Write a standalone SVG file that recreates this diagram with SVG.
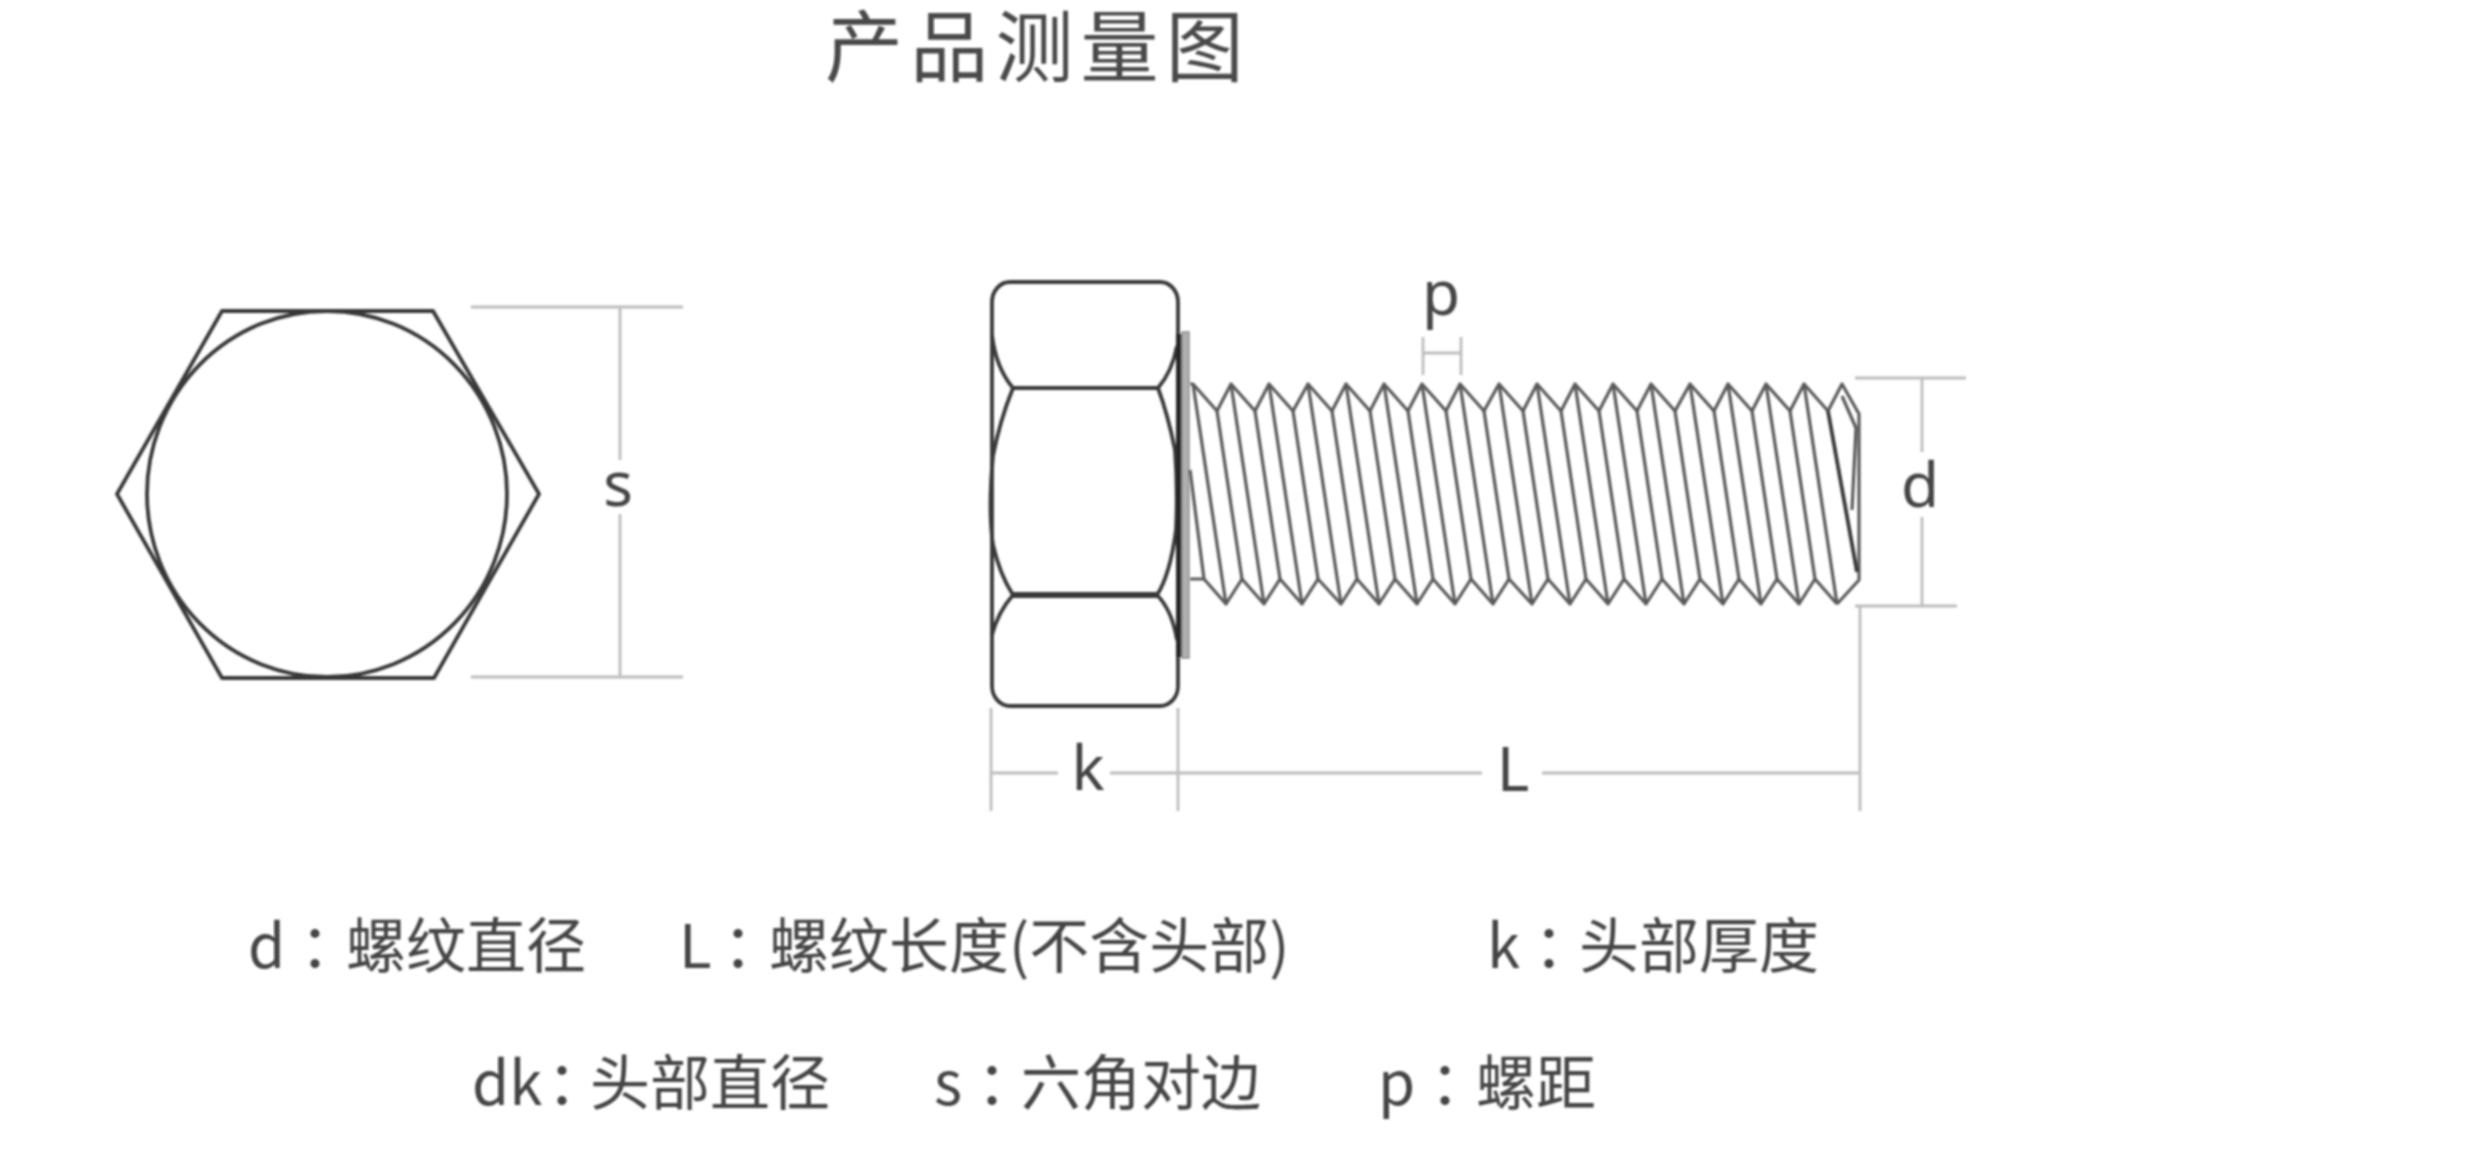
<svg xmlns="http://www.w3.org/2000/svg" width="2480" height="1164" viewBox="0 0 2480 1164">
<defs><filter id="soft" x="-5%" y="-5%" width="110%" height="110%"><feGaussianBlur stdDeviation="1.1"/></filter>
<filter id="softT" x="-5%" y="-20%" width="110%" height="140%"><feGaussianBlur stdDeviation="1"/></filter></defs>
<style>
.o{fill:none;stroke:#383838;stroke-width:3.8;stroke-linejoin:round}
.th{fill:none;stroke:#5a5a5a;stroke-width:3.2;stroke-linejoin:round}
.dim{fill:none;stroke:#bdbdbd;stroke-width:2.8}
text{font-family:"Noto Sans CJK SC","Noto Sans",sans-serif;fill:#444;filter:url(#softT)}
.t{font-size:78px;letter-spacing:7.2px;fill:#4a4a4a}
.l{font-size:60px}
.c{letter-spacing:-16px}
.m{font-size:62px;font-family:"Noto Sans","Noto Sans CJK SC",sans-serif;text-anchor:middle}
</style>
<rect width="2480" height="1164" fill="#fff"/>
<text id="title" class="t" x="825" y="76">产品测量图</text>
<g id="hex-view" filter="url(#soft)">
<path class="o" d="M222,311H433L539,494L434,678H222L117,494Z"/>
<ellipse class="o" cx="327" cy="494" rx="180" ry="183"/>
</g>
<g id="bolt-head" filter="url(#soft)">
<rect class="o" x="992" y="282" width="186" height="424" rx="18" ry="20"/>
<path class="o" d="M992,335Q996,368 1013,388H1158Q1172,372 1177,346"/>
<path class="o" d="M1013,388Q1000,420 993,456Q988,510 993,545Q1000,575 1013,595H1157Q1170,575 1176,530Q1178,490 1175,450Q1168,415 1158,388"/>
<path class="o" style="stroke-width:6" d="M1013,595H1157"/>
<path class="o" d="M1013,595Q998,612 992,635M1157,595Q1172,610 1177,640"/>
<path fill="none" stroke="#252525" stroke-width="6" d="M1179,334V657"/>
<rect x="1182" y="332" width="7" height="326" fill="#b0b0b0" stroke="#8f8f8f" stroke-width="1.5"/>
</g>
<g id="bolt-thread" filter="url(#soft)">
<path class="th" d="M1190,384H1193L1217,411L1231,384L1255,411L1269,384L1293,411L1308,384L1332,411L1346,384L1370,411L1384,384L1408,411L1422,384L1446,411L1460,384L1484,411L1499,384L1523,411L1537,384L1561,411L1575,384L1599,411L1613,384L1637,411L1651,384L1675,411L1690,384L1714,411L1728,384L1752,411L1766,384L1790,411L1804,384L1828,411L1842,384L1859,414V580L1837,604"/>
<path class="th" d="M1190,579H1204L1226,604L1242,579L1264,604L1280,579L1302,604L1318,579L1341,604L1357,579L1379,604L1395,579L1417,604L1433,579L1455,604L1471,579L1493,604L1509,579L1532,604L1548,579L1570,604L1586,579L1608,604L1624,579L1646,604L1662,579L1684,604L1700,579L1723,604L1739,579L1761,604L1777,579L1799,604L1815,579L1837,604"/>
<path class="th" d="M1193,384L1226,604M1231,384L1264,604M1269,384L1302,604M1308,384L1341,604M1346,384L1379,604M1384,384L1417,604M1422,384L1455,604M1460,384L1493,604M1499,384L1532,604M1537,384L1570,604M1575,384L1608,604M1613,384L1646,604M1651,384L1684,604M1690,384L1723,604M1728,384L1761,604M1766,384L1799,604M1804,384L1837,604"/>
<path class="th" d="M1190,470L1204,579M1217,411L1242,579M1255,411L1280,579M1293,411L1318,579M1332,411L1357,579M1370,411L1395,579M1408,411L1433,579M1446,411L1471,579M1484,411L1509,579M1523,411L1548,579M1561,411L1586,579M1599,411L1624,579M1637,411L1662,579M1675,411L1700,579M1714,411L1739,579M1752,411L1777,579M1790,411L1815,579"/>
<path class="o" d="M1828,411L1857,572"/>
<path class="th" d="M1842,396L1856,428L1852,510"/>
</g>
<g id="connectors" filter="url(#soft)">
<path class="dim" d="M471,307H683M471,677H683M620,307V460M620,514V677"/>
<path class="dim" d="M991,708V811M1178,708V811M991,773H1058M1110,773H1482M1542,773H1860M1860,606V811"/>
<path class="dim" d="M1855,378H1966M1855,606H1957M1922,378V452M1922,517V606"/>
<path class="dim" d="M1423,337V375M1461,337V375M1423,353H1461"/>
</g>
<g id="dim-labels">
<text class="m" x="618" y="506">s</text>
<text class="m" x="1088" y="790">k</text>
<text class="m" x="1513" y="791">L</text>
<text class="m" x="1920" y="507">d</text>
<text class="m" x="1441" y="315">p</text>
</g>
<g id="legend">
<text class="l" x="248" y="968">d<tspan class="c" x="300">：</tspan><tspan x="346">螺纹直径</tspan></text>
<text class="l" x="679" y="968">L<tspan class="c" x="723">：</tspan><tspan x="769">螺纹长度(不含头部)</tspan></text>
<text class="l" x="1487" y="968">k<tspan class="c" x="1534">：</tspan><tspan x="1579">头部厚度</tspan></text>
<text class="l" x="472" y="1105">dk<tspan class="c" x="547">：</tspan><tspan x="590">头部直径</tspan></text>
<text class="l" x="934" y="1105">s<tspan class="c" x="977">：</tspan><tspan x="1021">六角对边</tspan></text>
<text class="l" x="1378" y="1105">p<tspan class="c" x="1430">：</tspan><tspan x="1476">螺距</tspan></text>
</g>
</svg>
